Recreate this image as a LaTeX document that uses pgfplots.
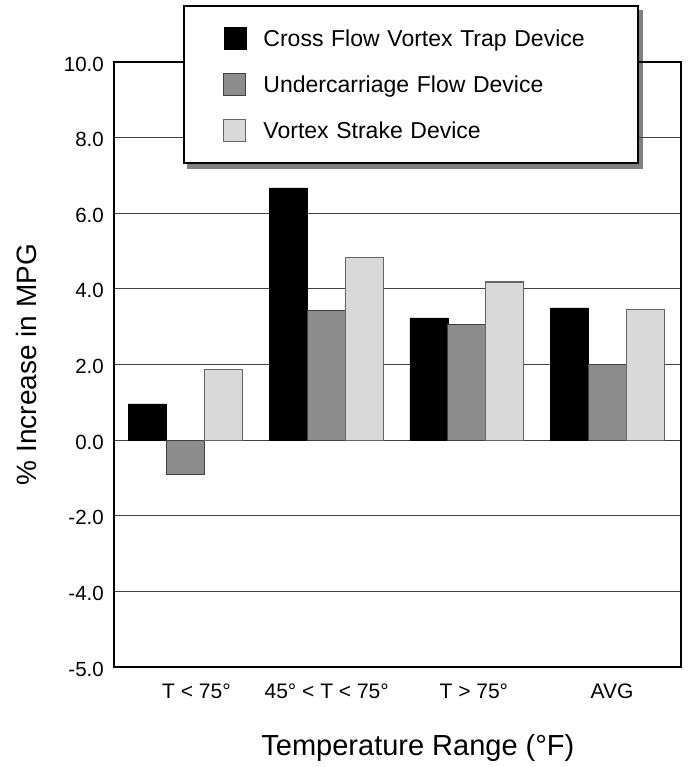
\documentclass[border=0pt]{standalone}
\usepackage{fontspec}
\setmainfont{Liberation Sans}
\usepackage{pgfplots}
\pgfplotsset{compat=1.18}
\usetikzlibrary{backgrounds}
\definecolor{midgray}{HTML}{8C8C8C}
\definecolor{palegray}{HTML}{D9D9D9}

\begin{document}
\begin{tikzpicture}
\begin{axis}[
  at={(0,0)}, anchor=south west,
  scale only axis, width=567pt, height=605pt,
  xmin=-0.508, xmax=3.522, ymin=-6, ymax=10,
  ybar=0pt, bar width=38pt,
  xtick={0.078,1.004,2.05,3.032},
  xticklabels={T < 75°, 45° < T < 75°, T > 75°, AVG},
  ytick={-6,-4,-2,0,2,4,6,8,10},
  yticklabels={-5.0,-4.0,-2.0,0.0,2.0,4.0,6.0,8.0,10.0},
  major tick length=0pt,
  ymajorgrids, grid style={black!75, line width=0.9pt},
  axis line style={line width=2.5pt},
  xticklabel style={font=\fontsize{21}{21}\selectfont, anchor=base, yshift=-31pt},
  yticklabel style={font=\fontsize{20.5}{20.5}\selectfont, anchor=east, inner xsep=0pt, xshift=-10pt, yshift=-2pt},
  xlabel={Temperature Range (°F)},
  xlabel style={font=\fontsize{29}{29}\selectfont, at={(axis description cs:0.536,-0.1455)}, anchor=base},
  ylabel={\% Increase in MPG},
  ylabel style={font=\fontsize{28}{28}\selectfont, at={(axis description cs:-0.1358,0.5)}, anchor=base},
  legend style={name=leg, at={(axis description cs:0.1222,1.0942)}, anchor=north west,
    draw=black, line width=2pt, fill=white,
    font=\fontsize{23}{23}\selectfont,
    inner xsep=39pt, inner ysep=21pt, row sep=23pt,
    cells={anchor=west},
    nodes={inner sep=0pt, text height=16pt, text depth=0pt, text width=336pt, align=left},
    /tikz/every odd column/.append style={column sep=17pt}},
  legend image code/.code={\draw[#1, draw opacity=1] (0pt,-11pt) rectangle (22pt,11pt);},
]

% Cross flow vortex trap
\addplot[fill=black, draw=black, line width=0.5pt]
coordinates {(0,0.96) (1,6.67) (2,3.23) (3,3.50)};

% Undercarriage flow
\addplot[fill=midgray, draw=black!75, line width=1.2pt]
coordinates {(0,-0.91) (1,3.42) (2,3.06) (3,1.99)};

% Vortex strake
\addplot[fill=palegray, draw=black!60, line width=1.2pt]
coordinates {(0,1.86) (1,4.82) (2,4.18) (3,3.46)};

\legend{Cross Flow Vortex Trap Device, Undercarriage Flow Device, Vortex Strake Device}
\end{axis}
\begin{pgfonlayer}{background}
\fill[black!50] ([xshift=4pt,yshift=-5pt]leg.south west) rectangle ([xshift=4pt,yshift=-5pt]leg.north east);
\end{pgfonlayer}
\pgfresetboundingbox
\path (-114pt,-100pt) rectangle (575pt,667pt);
\end{tikzpicture}
\end{document}
